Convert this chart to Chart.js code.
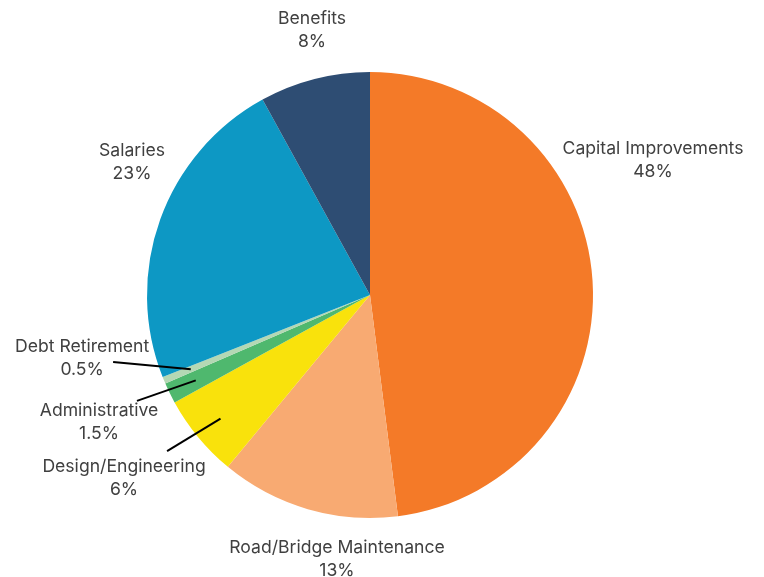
<!DOCTYPE html>
<html>
<head>
<meta charset="utf-8">
<script src="https://cdn.jsdelivr.net/npm/chart.js@4.4.1/dist/chart.umd.min.js"></script>
<style>
  html, body { margin: 0; padding: 0; background: #ffffff; }
  #wrap { width: 764px; height: 577px; }
</style>
</head>
<body>
<div id="wrap"><canvas id="c" width="764" height="577"></canvas></div>
<script>
const categories = ["Capital Improvements", "Road/Bridge Maintenance", "Design/Engineering", "Administrative", "Debt Retirement", "Salaries", "Benefits"];
const values = [48, 13, 6, 1.5, 0.5, 23, 8];
const valueLabels = ["48%", "13%", "6%", "1.5%", "0.5%", "23%", "8%"];
const colors = ["#F47A28", "#F8AA72", "#F9E20C", "#4FB86E", "#B4D8B4", "#0D98C4", "#2E4D73"];

// label placement, in units of the pie radius, relative to the pie centre
const labelOffsets = [[1.269, -0.603], [-0.148, 1.186], [-1.103, 0.821], [-1.215, 0.572], [-1.291, 0.285], [-1.067, -0.596], [-0.260, -1.188]];
// leader line far ends (radius units), null = no leader
const leaderEnds = [null, null, [-0.910, 0.700], [-1.045, 0.475], [-1.152, 0.300], null, null];

const labelPlugin = {
  id: 'outLabels',
  afterDatasetsDraw(chart) {
    const ctx = chart.ctx;
    const meta = chart.getDatasetMeta(0);
    ctx.save();
    meta.data.forEach((arc, i) => {
      const p = arc.getProps(['x', 'y', 'startAngle', 'endAngle', 'outerRadius'], true);
      const R = p.outerRadius;
      const mid = (p.startAngle + p.endAngle) / 2;
      if (leaderEnds[i]) {
        const sx = p.x + Math.cos(mid) * R * 0.87;
        const sy = p.y + Math.sin(mid) * R * 0.87;
        ctx.beginPath();
        ctx.moveTo(sx, sy);
        ctx.lineTo(p.x + leaderEnds[i][0] * R, p.y + leaderEnds[i][1] * R);
        ctx.strokeStyle = '#000000';
        ctx.lineWidth = 2;
        ctx.stroke();
      }
      const lx = p.x + labelOffsets[i][0] * R;
      const ly = p.y + labelOffsets[i][1] * R;
      ctx.fillStyle = '#404040';
      ctx.font = '17.6px Inter, "Open Sans", sans-serif';
      ctx.textAlign = 'center';
      ctx.textBaseline = 'middle';
      ctx.fillText(categories[i], lx, ly - 11.5);
      ctx.fillText(valueLabels[i], lx, ly + 11.5);
    });
    ctx.restore();
  }
};

new Chart(document.getElementById('c'), {
  type: 'pie',
  data: {
    labels: categories,
    datasets: [{
      data: values,
      backgroundColor: colors,
      borderWidth: 0
    }]
  },
  options: {
    responsive: false,
    animation: false,
    layout: { padding: { top: 72, bottom: 59, left: 147, right: 171 } },
    plugins: {
      legend: { display: false },
      tooltip: { enabled: false }
    }
  },
  plugins: [labelPlugin]
});
</script>
</body>
</html>
